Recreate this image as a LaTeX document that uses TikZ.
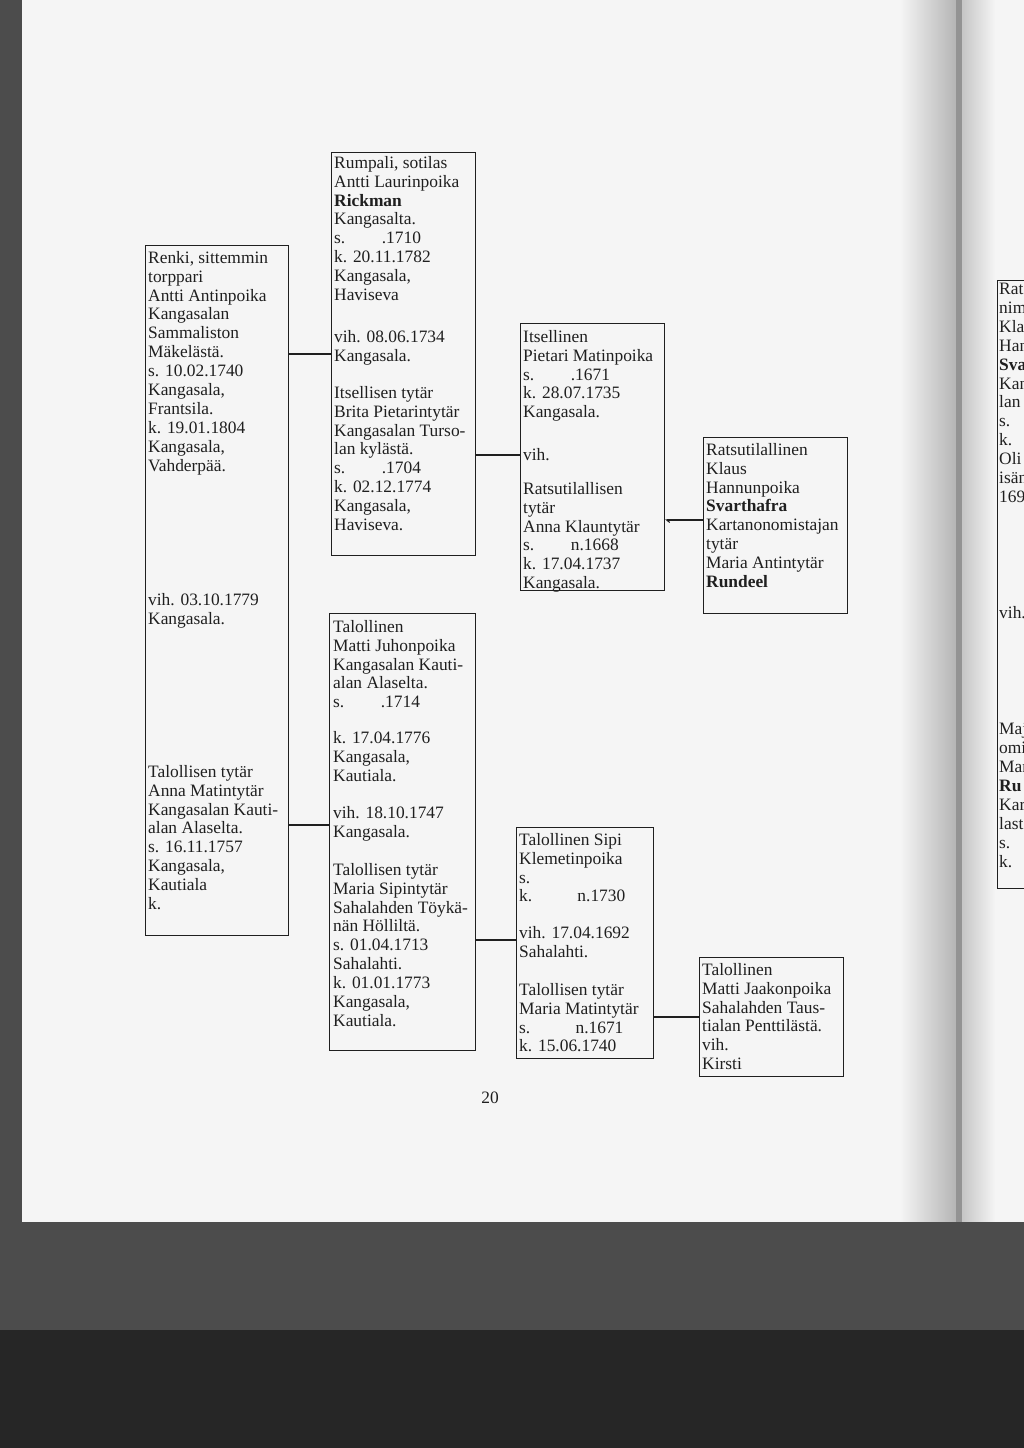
\documentclass[tikz,border=0pt]{standalone}
\usepackage{fontspec}
\setmainfont{Liberation Serif}
\usetikzlibrary{
    arrows.meta,
    calc,
}

\definecolor{paper}{gray}{0.96}
\definecolor{scandark}{gray}{0.30}
\definecolor{ink}{gray}{0.12}

\tikzset{
    box/.style = {draw=ink, line width=1.2pt, anchor=north west, inner sep=0pt},
    link/.style = {draw=ink, line width=1.1pt},
    txt/.style = {anchor=north west, align=left, inner sep=0pt, text=ink,
                  font=\fontsize{17.4}{18.9}\selectfont},
}

\begin{document}
\begin{tikzpicture}[x=1pt, y=-1pt]
    \useasboundingbox (0,0) rectangle (1024,1448);
    \clip (0,0) rectangle (1024,1448);
    % scanned page
    \fill[paper] (0,0) rectangle (1024,1448);
    \shade[left color=paper, right color=gray!60] (900,0) rectangle (958,1222);
    \fill[gray!85] (956,0) rectangle (962,1222);
    \shade[left color=gray!45, right color=paper] (962,0) rectangle (995,1222);
    \fill[scandark] (0,0) rectangle (22,1448);
    \fill[scandark] (0,1222) rectangle (1024,1448);
    \fill[black!85] (0,1330) rectangle (1024,1448);

    % boxes
    \node[box, minimum width=143, minimum height=690] (renki)   at (145,245) {};
    \node[box, minimum width=144, minimum height=403] (rumpali) at (331,152) {};
    \node[box, minimum width=146, minimum height=437] (matti)   at (329,613) {};
    \node[box, minimum width=144, minimum height=267] (pietari) at (520,323) {};
    \node[box, minimum width=137, minimum height=231] (sipi)    at (516,827) {};
    \node[box, minimum width=144, minimum height=176] (klaus)   at (703,437) {};
    \node[box, minimum width=144, minimum height=119] (jaakko)  at (699,957) {};
    \node[box, minimum width=60,  minimum height=608] (edge)    at (997,280) {};

    % texts in the boxes
    \node[txt] at (148,251) {Renki, sittemmin\\torppari\\Antti Antinpoika\\Kangasalan\\Sammaliston\\
        Mäkelästä.\\s. 10.02.1740\\Kangasala,\\Frantsila.\\k. 19.01.1804\\Kangasala,\\Vahderpää.};
    \node[txt] at (148,593) {vih. 03.10.1779\\Kangasala.};
    \node[txt] at (148,765) {Talollisen tytär\\Anna Matintytär\\Kangasalan Kauti-\\alan Alaselta.\\
        s. 16.11.1757\\Kangasala,\\Kautiala\\k.};

    \node[txt] at (334,156) {Rumpali, sotilas\\Antti Laurinpoika\\\textbf{Rickman}\\Kangasalta.\\
        s.\hspace{2.1em}.1710\\k. 20.11.1782\\Kangasala,\\Haviseva};
    \node[txt] at (334,330) {vih. 08.06.1734\\Kangasala.};
    \node[txt] at (334,386) {Itsellisen tytär\\Brita Pietarintytär\\Kangasalan Turso-\\lan kylästä.\\
        s.\hspace{2.1em}.1704\\k. 02.12.1774\\Kangasala,\\Haviseva.};

    \node[txt] at (333,620) {Talollinen\\Matti Juhonpoika\\Kangasalan Kauti-\\alan Alaselta.\\
        s.\hspace{2.1em}.1714};
    \node[txt] at (333,731) {k. 17.04.1776\\Kangasala,\\Kautiala.};
    \node[txt] at (333,806) {vih. 18.10.1747\\Kangasala.};
    \node[txt] at (333,863) {Talollisen tytär\\Maria Sipintytär\\Sahalahden Töykä-\\nän Hölliltä.\\
        s. 01.04.1713\\Sahalahti.\\k. 01.01.1773\\Kangasala,\\Kautiala.};

    \node[txt] at (523,330) {Itsellinen\\Pietari Matinpoika\\s.\hspace{2.1em}.1671\\k. 28.07.1735\\Kangasala.};
    \node[txt] at (523,448) {vih.};
    \node[txt] at (523,482) {Ratsutilallisen\\tytär\\Anna Klauntytär\\s.\hspace{2.1em}n.1668\\
        k. 17.04.1737\\Kangasala.};

    \node[txt] at (519,833) {Talollinen Sipi\\Klemetinpoika\\s.\\k.\hspace{2.6em}n.1730};
    \node[txt] at (519,926) {vih. 17.04.1692\\Sahalahti.};
    \node[txt] at (519,983) {Talollisen tytär\\Maria Matintytär\\s.\hspace{2.6em}n.1671\\k. 15.06.1740};

    \node[txt] at (706,443) {Ratsutilallinen\\Klaus\\Hannunpoika\\\textbf{Svarthafra}\\
        Kartanonomistajan\\tytär\\Maria Antintytär\\\textbf{Rundeel}};
    \node[txt] at (702,963) {Talollinen\\Matti Jaakonpoika\\Sahalahden Taus-\\tialan Penttilästä.\\vih.\\Kirsti};

    \node[txt] at (999,283) {Rats\\nim\\Klau\\Han\\\textbf{Sva}\\Kan\\lan\\s.\\k.\\Oli\\isän\\169};
    \node[txt] at (999,606) {vih.};
    \node[txt] at (999,723) {Maj\\omi\\Mar\\\textbf{Ru}\\Kar\\last\\s.\\k.};

    % page number
    \node[txt, anchor=center] (page) at (490,1098) {20};

    % connectors
    \coordinate (ra) at ([yshift=-109pt]renki.north east);
    \coordinate (rb) at ([yshift=-580pt]renki.north east);
    \coordinate (ru) at ([yshift=-303pt]rumpali.north east);
    \coordinate (ma) at ([yshift=-327pt]matti.north east);
    \coordinate (pi) at ([yshift=-197pt]pietari.north east);
    \coordinate (si) at ([yshift=-190pt]sipi.north east);
    \draw[link] (ra) -- (ra -| rumpali.west);
    \draw[link] (rb) -- (rb -| matti.west);
    \draw[link] (ru) -- (ru -| pietari.west);
    \draw[link] (ma) -- (ma -| sipi.west);
    \draw[link, -{Straight Barb[left, length=3pt, width=5pt]}] (pi -| klaus.west) -- (pi);
    \draw[link] (si) -- (si -| jaakko.west);
\end{tikzpicture}
\end{document}
